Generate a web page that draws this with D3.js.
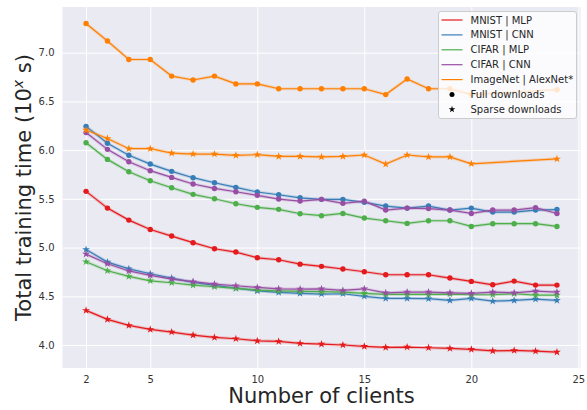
<!DOCTYPE html>
<html><head><meta charset="utf-8">
<script src="https://cdn.jsdelivr.net/npm/d3@7"></script>
<style>body{margin:0;background:#fff;} svg{display:block;font-family:"DejaVu Sans",sans-serif;}</style>
</head><body>
<svg id="c" width="587" height="410"></svg>
<script>
const clients = [2,3,4,5,6,7,8,9,10,11,12,13,14,15,16,17,18,19,20,21,22,23,24];
const imagenetClients = [2,3,4,5,6,7,8,9,10,11,12,13,14,15,16,17,18,19,20,24];

const mnistMlpFull   = [5.577,5.405,5.282,5.185,5.118,5.05,4.988,4.954,4.895,4.875,4.83,4.807,4.78,4.752,4.721,4.721,4.721,4.687,4.653,4.618,4.656,4.615,4.615];
const mnistCnnFull   = [6.244,6.07,5.947,5.857,5.782,5.717,5.665,5.618,5.57,5.542,5.511,5.495,5.495,5.464,5.426,5.405,5.426,5.385,5.405,5.364,5.364,5.385,5.39];
const cifarMlpFull   = [6.076,5.905,5.778,5.686,5.614,5.546,5.501,5.45,5.413,5.392,5.347,5.327,5.35,5.303,5.275,5.248,5.275,5.275,5.217,5.245,5.245,5.245,5.217];
const cifarCnnFull   = [6.18,6.008,5.881,5.789,5.72,5.652,5.607,5.573,5.536,5.498,5.477,5.495,5.454,5.477,5.385,5.405,5.40,5.385,5.35,5.385,5.385,5.41,5.35];
const imagenetFull   = [7.30,7.12,6.93,6.93,6.76,6.72,6.76,6.68,6.68,6.63,6.63,6.63,6.63,6.63,6.57,6.73,6.63,6.63,6.57,6.62];

const mnistMlpSparse = [4.355,4.263,4.201,4.16,4.133,4.102,4.078,4.064,4.043,4.037,4.016,4.009,4.0,3.986,3.976,3.979,3.972,3.965,3.955,3.94,3.944,3.937,3.927];
const mnistCnnSparse = [4.98,4.851,4.782,4.731,4.687,4.643,4.612,4.584,4.556,4.54,4.53,4.523,4.526,4.50,4.478,4.478,4.475,4.458,4.478,4.45,4.458,4.47,4.458];
const cifarMlpSparse = [4.855,4.762,4.704,4.659,4.639,4.615,4.598,4.581,4.564,4.556,4.55,4.547,4.543,4.53,4.519,4.519,4.519,4.523,4.516,4.516,4.526,4.512,4.512];
const cifarCnnSparse = [4.933,4.834,4.76,4.715,4.677,4.65,4.625,4.608,4.591,4.577,4.574,4.577,4.56,4.577,4.536,4.543,4.543,4.536,4.53,4.543,4.536,4.553,4.543];
const imagenetSparse = [6.206,6.12,6.015,6.015,5.97,5.96,5.96,5.946,5.953,5.936,5.936,5.93,5.936,5.95,5.857,5.95,5.93,5.93,5.86,5.91];

const seriesNames = ["MNIST | MLP","MNIST | CNN","CIFAR | MLP","CIFAR | CNN","ImageNet | AlexNet*"];
const colors = ["#e41a1c","#377eb8","#4daf4a","#984ea3","#ff7f00"];
const xTicks = [2,5,10,15,20,25];
const yTicks = [4.0,4.5,5.0,5.5,6.0,6.5,7.0];

const series = [
  {name:seriesNames[0], x:clients, full:mnistMlpFull, sparse:mnistMlpSparse},
  {name:seriesNames[1], x:clients, full:mnistCnnFull, sparse:mnistCnnSparse},
  {name:seriesNames[2], x:clients, full:cifarMlpFull, sparse:cifarMlpSparse},
  {name:seriesNames[3], x:clients, full:cifarCnnFull, sparse:cifarCnnSparse},
  {name:seriesNames[4], x:imagenetClients, full:imagenetFull, sparse:imagenetSparse}
];

const svg = d3.select("#c");
const L = 62.5, R = 580.5, T = 7, B = 368;
const x = d3.scaleLinear().domain([0.9,25.1]).range([L,R]);
const y = d3.scaleLinear().domain([3.764,7.469]).range([B,T]);

svg.append("rect").attr("x",L).attr("y",T).attr("width",R-L).attr("height",B-T).attr("fill","#eaeaf2");

const gx = svg.append("g").attr("transform",`translate(0,${B})`)
  .call(d3.axisBottom(x).tickValues(xTicks).tickSize(-(B-T)).tickPadding(8).tickFormat(d3.format("d")));
const gy = svg.append("g").attr("transform",`translate(${L},0)`)
  .call(d3.axisLeft(y).tickValues(yTicks).tickSize(-(R-L)).tickPadding(8).tickFormat(d3.format(".1f")));
[gx,gy].forEach(g=>{
  g.select(".domain").remove();
  g.selectAll(".tick line").attr("stroke","#fff").attr("stroke-width",1);
  g.selectAll(".tick text").attr("fill","#333").attr("font-size",10).attr("font-family","DejaVu Sans");
});

const plot = svg.append("g");
const line = d3.line().x(d=>x(d[0])).y(d=>y(d[1]));
series.forEach((s,i)=>{
  ["full","sparse"].forEach(kind=>{
    const pts = s.x.map((c,j)=>[c,s[kind][j]]);
    plot.append("path").attr("d",line(pts)).attr("fill","none").attr("stroke",colors[i]).attr("stroke-width",3.2).attr("stroke-opacity",0.22);
    plot.append("path").attr("d",line(pts)).attr("fill","none").attr("stroke",colors[i]).attr("stroke-width",1.2);
    if(kind==="full"){
      plot.selectAll(null).data(pts).enter().append("circle")
        .attr("cx",d=>x(d[0])).attr("cy",d=>y(d[1])).attr("r",2.7).attr("fill",colors[i]);
    } else {
      plot.selectAll(null).data(pts).enter().append("path")
        .attr("d",d3.symbol().type(d3.symbolStar).size(19))
        .attr("transform",d=>`translate(${x(d[0])},${y(d[1])})`).attr("fill",colors[i]);
    }
  });
});

// axis labels
svg.append("text").attr("x",(L+R)/2).attr("y",403).attr("text-anchor","middle")
  .attr("font-size",21).attr("fill","#262626").text("Number of clients");
const yl = svg.append("text").attr("transform",`translate(31,${(T+B)/2}) rotate(-90)`).attr("text-anchor","middle")
  .attr("font-size",21).attr("fill","#262626");
yl.append("tspan").text("Total training time (10");
yl.append("tspan").attr("dy",-8).attr("font-size",14).attr("font-style","italic").text("x");
yl.append("tspan").attr("dy",8).text(" s)");

// legend
const lg = svg.append("g");
lg.append("rect").attr("x",438.5).attr("y",11.5).attr("width",138).attr("height",107).attr("rx",2.5)
  .attr("fill","#fff").attr("fill-opacity",0.8).attr("stroke","#cccccc").attr("stroke-width",1);
const rowY = i => 20 + i*14.9;
seriesNames.forEach((n,i)=>{
  lg.append("line").attr("x1",441.5).attr("x2",462.5).attr("y1",rowY(i)).attr("y2",rowY(i)).attr("stroke",colors[i]).attr("stroke-width",1.2);
  lg.append("text").attr("x",470.5).attr("y",rowY(i)).attr("dy","0.35em").attr("font-size",10).attr("fill","#262626").text(n);
});
lg.append("circle").attr("cx",452).attr("cy",rowY(5)).attr("r",2.5).attr("fill","#000");
lg.append("text").attr("x",470.5).attr("y",rowY(5)).attr("dy","0.35em").attr("font-size",10).attr("fill","#262626").text("Full downloads");
lg.append("path").attr("d",d3.symbol().type(d3.symbolStar).size(14)).attr("transform",`translate(452,${rowY(6)})`).attr("fill","#000");
lg.append("text").attr("x",470.5).attr("y",rowY(6)).attr("dy","0.35em").attr("font-size",10).attr("fill","#262626").text("Sparse downloads");
</script>
</body></html>
